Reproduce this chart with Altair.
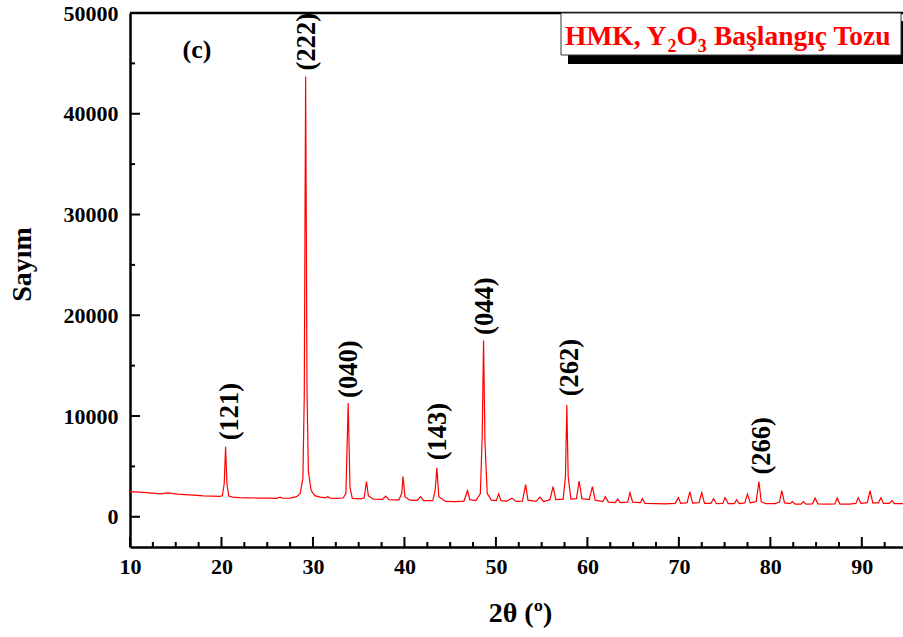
import altair as alt
import pandas as pd

# ---------------- data ----------------
two_theta = [
    10.0, 10.5, 11.0, 11.5, 12.0, 12.5, 13.0, 13.5, 13.8, 14.2, 14.7, 15.2, 16.0, 17.0, 18.0, 19.0,
    19.8, 20.1, 20.3, 20.45, 20.6, 20.8, 21.2, 22.0, 23.0, 24.0, 25.0, 26.0, 26.4, 26.7, 27.5,
    28.2, 28.6, 28.9, 29.05, 29.2, 29.35, 29.5, 29.8, 30.2, 30.8, 31.4, 31.6, 31.9, 32.6, 33.3,
    33.6, 33.85, 34.05, 34.3, 35.2, 35.6, 35.85, 36.05, 36.6, 37.6, 37.95, 38.3, 39.4, 39.7,
    39.85, 40.05, 40.6, 41.4, 41.75, 42.1, 43.1, 43.35, 43.55, 43.75, 44.5, 45.5, 46.5, 46.9,
    47.15, 47.8, 48.3, 48.5, 48.65, 48.8, 49.05, 49.5, 50.05, 50.3, 50.55, 51.2, 51.75, 52.2,
    52.9, 53.25, 53.5, 54.4, 54.8, 55.2, 55.9, 56.25, 56.55, 57.35, 57.6, 57.75, 57.9, 58.2,
    58.8, 59.1, 59.4, 60.2, 60.55, 60.85, 61.7, 61.95, 62.3, 63.05, 63.3, 63.6, 64.4, 64.65,
    64.95, 65.8, 66.0, 66.3, 67.5, 68.5, 69.6, 69.95, 70.2, 70.9, 71.2, 71.5, 72.2, 72.5, 72.8,
    73.5, 73.8, 74.1, 74.8, 75.05, 75.4, 76.05, 76.3, 76.6, 77.2, 77.5, 77.8, 78.45, 78.75,
    79.0, 79.5, 80.5, 81.0, 81.25, 81.55, 82.15, 82.4, 82.7, 83.35, 83.6, 83.9, 84.6, 84.9,
    85.2, 86.2, 87.05, 87.3, 87.6, 88.6, 89.35, 89.6, 89.9, 90.6, 90.9, 91.2, 91.8, 92.1,
    92.35, 93.0, 93.3, 93.55, 94.5,
]
counts = [
    2500, 2470, 2440, 2420, 2380, 2340, 2300, 2270, 2350, 2380, 2300, 2250, 2200, 2150, 2080, 2050,
    2030, 2080, 3300, 6950, 3200, 2050, 1950, 1900, 1880, 1860, 1850, 1830, 1950, 1840, 1860,
    2000, 2300, 3800, 12000, 43700, 12500, 4500, 2600, 2100, 1950, 1880, 2000, 1860, 1830, 1860,
    2300, 11300, 2900, 1830, 1780, 1880, 3500, 2100, 1740, 1720, 2050, 1700, 1680, 2300,
    4000, 2000, 1650, 1620, 2000, 1600, 1600, 2600, 4850, 2000, 1520, 1500, 1560, 2600,
    1700, 1600, 2300, 8000, 17500, 7500, 2300, 1650, 1600, 2280, 1600, 1550, 1850, 1520,
    1550, 3200, 1650, 1530, 1950, 1520, 1700, 3000, 1700, 1750, 4000, 11100, 4000, 1750,
    1800, 3550, 1800, 1700, 3000, 1650, 1500, 2000, 1450, 1400, 1750, 1400, 1450, 2400,
    1450, 1400, 1800, 1330, 1300, 1290, 1330, 1900, 1330, 1400, 2500, 1350, 1400, 2400, 1330,
    1330, 1800, 1300, 1320, 1900, 1300, 1300, 1700, 1300, 1380, 2250, 1380, 1500, 3500,
    1500, 1300, 1300, 1450, 2600, 1380, 1300, 1500, 1260, 1260, 1500, 1260, 1280, 1850,
    1280, 1260, 1280, 1850, 1260, 1260, 1330, 1900, 1330, 1400, 2600, 1380, 1380, 1900,
    1330, 1320, 1600, 1300, 1300,
]

label_text = ["(121)", "(222)", "(040)", "(143)", "(044)", "(262)", "(266)"]
label_x = [20.95, 29.4, 33.9, 43.65, 48.8, 58.05, 79.05]
label_y = [7600, 44300, 11800, 5600, 18050, 11950, 4200]

x_major = [10, 20, 30, 40, 50, 60, 70, 80, 90]
x_minor = [12.5, 15, 17.5, 22.5, 25, 27.5, 32.5, 35, 37.5, 42.5, 45, 47.5, 52.5, 55, 57.5,
           62.5, 65, 67.5, 72.5, 75, 77.5, 82.5, 85, 87.5, 92.5]
y_major = [0, 10000, 20000, 30000, 40000, 50000]
y_minor = [5000, 15000, 25000, 35000, 45000]

# ---------------- layout constants ----------------
W, H = 773, 534
FONT = "Liberation Serif"
xs = alt.Scale(domain=[10, 94.5], nice=False, zero=False)
ys = alt.Scale(domain=[-3000, 50000], nice=False, zero=False)

ax_x = alt.Axis(values=x_major, format="d", ticks=False, grid=False, labelFlush=False,
                domainColor="black", domainWidth=2.5, labelPadding=9,
                labelFont=FONT, labelFontWeight="bold", labelFontSize=22,
                labelColor="black", title="2θ (º)", titleFont=FONT,
                titleFontWeight="bold", titleFontSize=28, titleColor="black",
                titleX=390, titleY=66, titleAlign="center", titleBaseline="middle")
ax_y = alt.Axis(values=y_major, format="d", ticks=False, grid=False, labelFlush=False,
                domainColor="black", domainWidth=2.5, labelPadding=12,
                labelFont=FONT, labelFontWeight="bold", labelFontSize=22,
                labelColor="black", title="Sayım", titleFont=FONT,
                titleFontWeight="bold", titleFontSize=28, titleColor="black",
                titleX=-108, titleY=251, titleAngle=270, titleAlign="center",
                titleBaseline="middle")

df = pd.DataFrame({"tt": two_theta, "c": counts})
lab = pd.DataFrame({"tt": label_x, "c": label_y, "t": label_text})
one = pd.DataFrame({"a": [0]})

line = alt.Chart(df).mark_line(color="#ff0000", strokeWidth=1.2).encode(
    x=alt.X("tt:Q", scale=xs, axis=ax_x),
    y=alt.Y("c:Q", scale=ys, axis=ax_y),
)

labels = alt.Chart(lab).mark_text(angle=270, align="left", baseline="middle",
                                  font=FONT, fontWeight="bold", fontSize=26.5,
                                  color="black").encode(
    x=alt.X("tt:Q", scale=xs, axis=ax_x),
    y=alt.Y("c:Q", scale=ys, axis=ax_y),
    text="t:N",
)

xt_major = alt.Chart(pd.DataFrame({"tt": x_major})).mark_rule(color="black", strokeWidth=2).encode(
    x=alt.X("tt:Q", scale=xs, axis=ax_x), y=alt.value(H - 10), y2=alt.value(H))
xt_minor = alt.Chart(pd.DataFrame({"tt": x_minor})).mark_rule(color="black", strokeWidth=2).encode(
    x=alt.X("tt:Q", scale=xs, axis=ax_x), y=alt.value(H - 5), y2=alt.value(H))
yt_major = alt.Chart(pd.DataFrame({"c": y_major})).mark_rule(color="black", strokeWidth=2).encode(
    y=alt.Y("c:Q", scale=ys, axis=ax_y), x=alt.value(0), x2=alt.value(10))
yt_minor = alt.Chart(pd.DataFrame({"c": y_minor})).mark_rule(color="black", strokeWidth=2).encode(
    y=alt.Y("c:Q", scale=ys, axis=ax_y), x=alt.value(0), x2=alt.value(5))

top_line = alt.Chart(one).mark_rule(color="black", strokeWidth=2.5).encode(
    x=alt.value(0), x2=alt.value(W + 5), y=alt.value(0))

panel_tag = alt.Chart(one).mark_text(text="(c)", font=FONT, fontWeight="bold", fontSize=26,
                                     color="black", align="center", baseline="middle").encode(
    x=alt.value(67), y=alt.value(37))

shadow = alt.Chart(one).mark_rect(color="black").encode(
    x=alt.value(438), x2=alt.value(790), y=alt.value(8), y2=alt.value(51))
box = alt.Chart(one).mark_rect(fill="white", stroke="#333333", strokeWidth=1).encode(
    x=alt.value(431), x2=alt.value(771), y=alt.value(0), y2=alt.value(42))

def piece(txt, x, y, size):
    return alt.Chart(one).mark_text(text=txt, font=FONT, fontWeight="bold", fontSize=size,
                                    color="#ff0000", align="left", baseline="alphabetic").encode(
        x=alt.value(x), y=alt.value(y))

legend_text = (piece("HMK, Y", 435, 32, 27.5) + piece("2", 537.4, 39, 18)
               + piece("O", 546.4, 32, 27.5) + piece("3", 567.8, 39, 18)
               + piece("Başlangıç Tozu", 584.0, 32, 27.5))

chart = alt.layer(
    line, labels, xt_major, xt_minor, yt_major, yt_minor, top_line, panel_tag,
    shadow, box, legend_text,
).properties(
    width=W, height=H,
    autosize=alt.AutoSizeParams(type="none"),
    padding={"left": 130, "top": 13, "right": 0, "bottom": 90},
).configure_view(stroke=None).configure(background="white")

chart.save("out.html", embed_options={"renderer": "svg", "actions": False})
